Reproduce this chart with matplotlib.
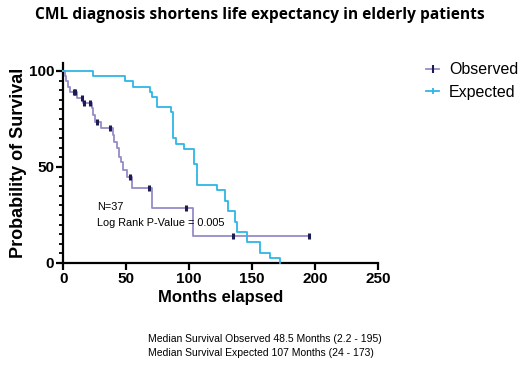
import matplotlib
matplotlib.use("Agg")
import matplotlib.pyplot as plt
from matplotlib.lines import Line2D
from matplotlib.ticker import MultipleLocator

# ---- data ----
obs_times = [0, 1.0, 2.5, 4.0, 5.3, 10.5, 15.9, 23.1, 24.0, 24.9, 30.0, 39.2, 40.5,
             42.4, 44.5, 45.6, 47.2, 50.4, 54.3, 70.2, 102.8]
obs_surv = [100, 97.3, 94.6, 91.9, 89.2, 86.1, 83.5, 80.5, 77.0, 73.6, 70.1, 66.5, 63.2,
            59.7, 55.4, 52.8, 48.4, 45.0, 38.9, 28.6, 14.3]
obs_last = 195
obs_cens_t = [8.5, 9.3, 14.6, 16.5, 21.2, 27.0, 37.1, 53.0, 68.4, 97.5, 134.6, 195]

exp_times = [0, 23.3, 49.0, 55.6, 69.0, 70.3, 74.2, 85.4, 87.0, 89.6, 96.2, 103.9, 106.0,
             122.0, 128.5, 131.2, 136.5, 137.8, 146.0, 156.4, 164.3, 172.5]
exp_surv = [100, 97.3, 94.6, 91.9, 89.2, 86.5, 81.1, 78.4, 64.9, 62.2, 59.5, 51.4, 40.5,
            37.8, 32.4, 27.0, 21.6, 16.2, 10.8, 5.4, 2.7, 0]

series_names = ["Observed", "Expected"]
xticks = [0, 50, 100, 150, 200, 250]
yticks = [0, 50, 100]

title = "CML diagnosis shortens life expectancy in elderly patients"
xlabel = "Months elapsed"
ylabel = "Probability of Survival"
annot = ["N=37", "Log Rank P-Value = 0.005"]
footer = ["Median Survival Observed 48.5 Months (2.2 - 195)",
          "Median Survival Expected 107 Months (24 - 173)"]

# ---- styling ----
PURPLE = "#948bc8"
CYAN = "#2db6e6"
CENS = "#1c1c50"
plt.rcParams['font.family'] = ['Liberation Sans', 'DejaVu Sans']

fig = plt.figure(figsize=(5.2, 3.65), dpi=100)
ax = fig.add_axes([63.3 / 520, 1 - 263 / 365, (377.8 - 63.3) / 520, (263 - 63.3) / 365])


def km_step(times, surv, last=None):
    t = list(times)
    s = list(surv)
    if last is not None:
        t.append(last)
        s.append(s[-1])
    return t, s


def surv_at(times, surv, x):
    val = surv[0]
    for t, s in zip(times, surv):
        if t <= x:
            val = s
    return val


t, s = km_step(obs_times, obs_surv, obs_last)
ax.step(t, s, where='post', color=PURPLE, lw=1.3, clip_on=False, zorder=3)
ax.plot(obs_cens_t, [surv_at(obs_times, obs_surv, c) for c in obs_cens_t],
        ls='none', marker='|', ms=5, mew=2.2, color=CENS, clip_on=False, zorder=4)

t, s = km_step(exp_times, exp_surv)
ax.step(t, s, where='post', color=CYAN, lw=1.3, clip_on=False, zorder=3)

ax.set_xlim(0, 250)
ax.set_ylim(0, 104)
ax.set_xticks(xticks)
ax.set_yticks(yticks)
ax.yaxis.set_minor_locator(MultipleLocator(5))
for sp in ['top', 'right']:
    ax.spines[sp].set_visible(False)
for sp in ['left', 'bottom']:
    ax.spines[sp].set_linewidth(1.6)
    ax.spines[sp].set_color('black')
ax.tick_params(axis='both', which='major', length=5, width=1.6, direction='out',
               labelsize=11, pad=1.5)
ax.tick_params(axis='y', which='minor', length=3, width=1.3, direction='out')
for lab in ax.get_xticklabels() + ax.get_yticklabels():
    lab.set_fontweight('bold')

ax.set_xlabel(xlabel, fontsize=12, fontweight='bold', labelpad=3)
ax.set_ylabel(ylabel, fontsize=13, fontweight='bold', labelpad=1)

ax.text(26.8, 29.0, annot[0], fontsize=7.8, ha='left', va='center')
ax.text(26.8, 20.8, annot[1], fontsize=7.8, ha='left', va='center')

fig.text(0.5, 0.958, title, fontsize=11.2, fontweight='bold', ha='center', va='center',
         family=['Open Sans', 'DejaVu Sans'])

handles = [Line2D([], [], color=PURPLE, lw=1.3, marker='|', ms=6, mew=1.5, mec=CENS),
           Line2D([], [], color=CYAN, lw=1.3, marker='|', ms=5, mew=1.3, mec=CYAN)]
fig.legend(handles, series_names, loc='upper left', bbox_to_anchor=(420 / 520, 1 - 56 / 365),
           frameon=False, fontsize=11.5, handlelength=0.8, handletextpad=0.6,
           labelspacing=0.45, borderaxespad=0)

fig.text(148 / 520, 1 - 339 / 365, footer[0], fontsize=7.5, ha='left', va='center')
fig.text(148 / 520, 1 - 353 / 365, footer[1], fontsize=7.5, ha='left', va='center')

fig.savefig("out.png", dpi=100)
